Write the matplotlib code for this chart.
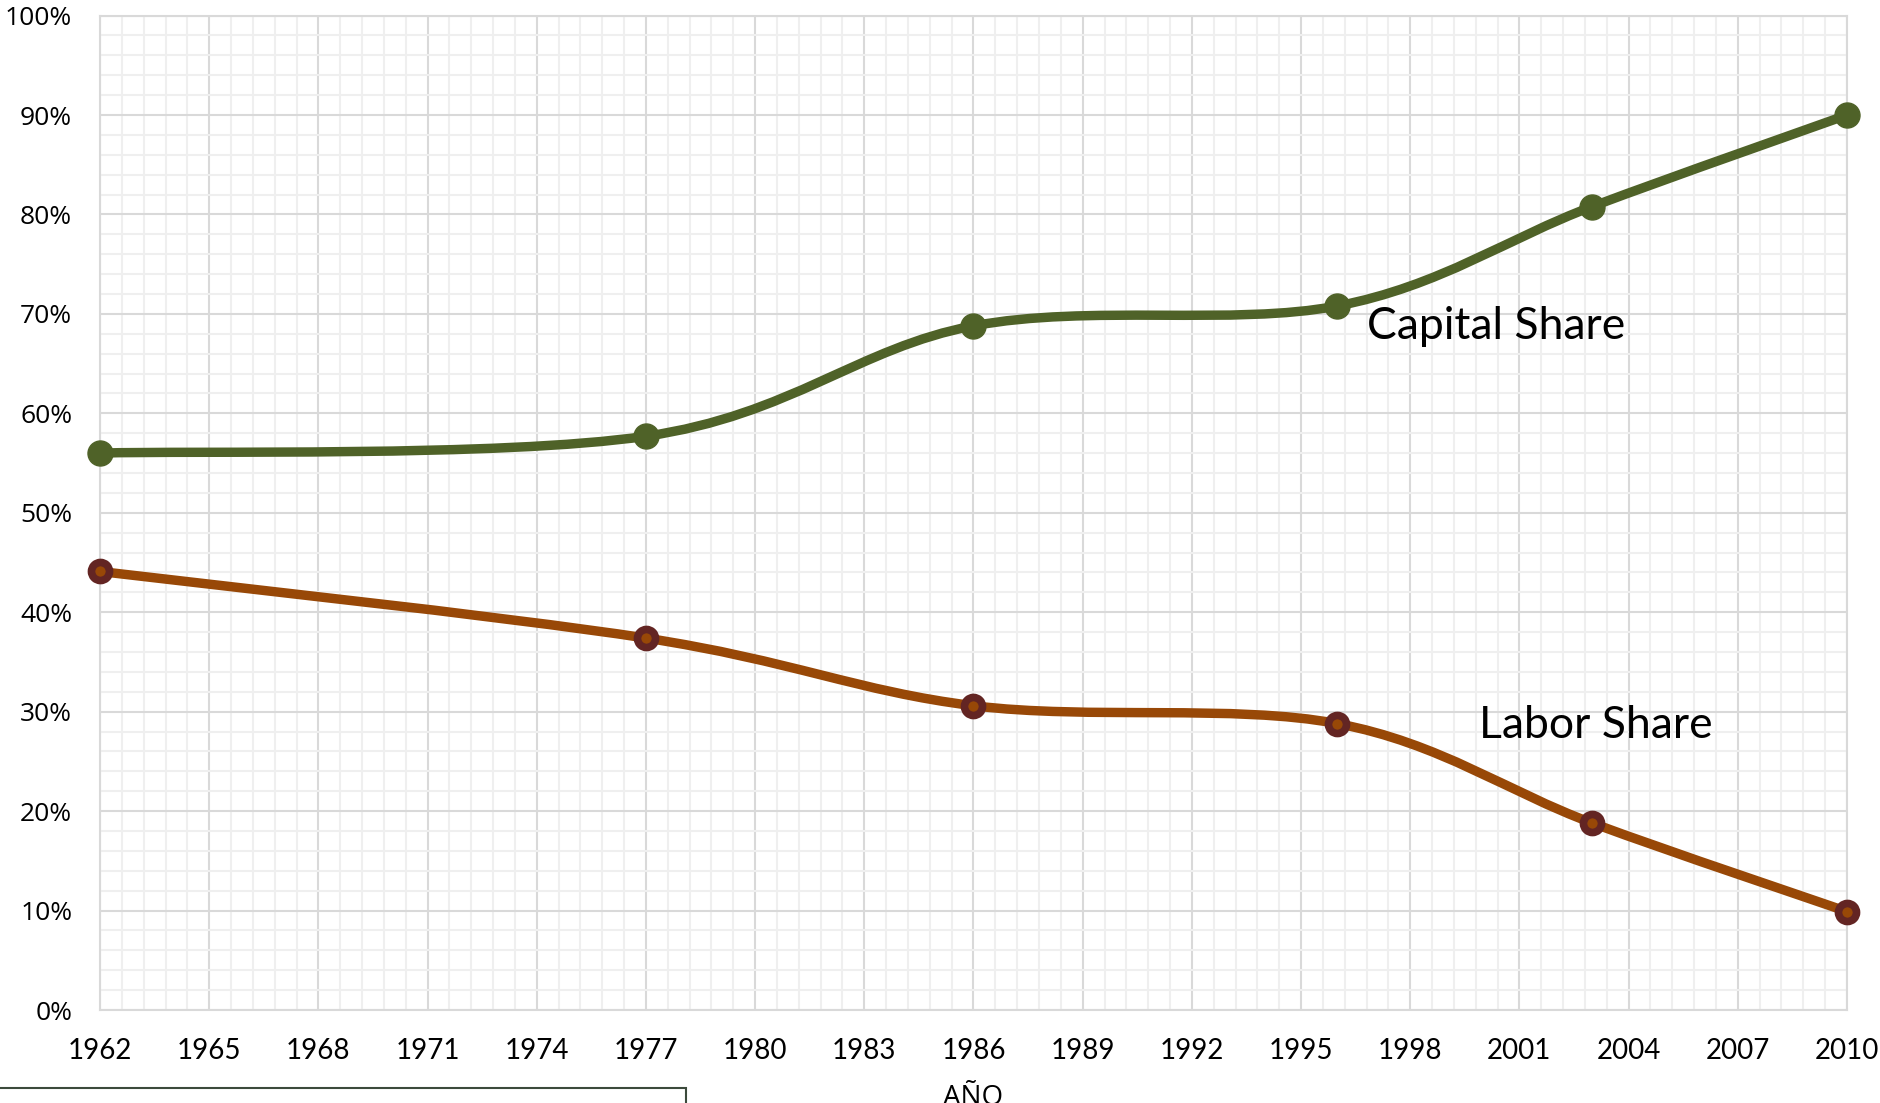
import numpy as np
import matplotlib
matplotlib.use("Agg")
import matplotlib.pyplot as plt
from matplotlib.path import Path
from matplotlib.patches import PathPatch, Rectangle
from matplotlib.ticker import MultipleLocator, PercentFormatter

# data
years = [1962, 1977, 1986, 1996, 2003, 2010]
capital_share = [56.0, 57.7, 68.8, 70.8, 80.8, 90.0]
labor_share = [44.1, 37.4, 30.6, 28.8, 18.8, 9.9]
x_ticks = list(range(1962, 2011, 3))

GREEN = '#4f6228'
ORANGE = '#984807'
DARKRED = '#632523'
GRID_MAJOR = '#d9d9d9'
GRID_MINOR = '#efefef'


def smooth_path(xs, ys):
    """Excel-style smoothed line: cardinal bezier through the points."""
    pts = np.column_stack([xs, ys]).astype(float)
    n = len(pts)
    verts = [pts[0]]
    codes = [Path.MOVETO]
    for i in range(n - 1):
        p_prev = pts[i - 1] if i > 0 else pts[i]
        p_next2 = pts[i + 2] if i + 2 < n else pts[i + 1]
        c1 = pts[i] + (pts[i + 1] - p_prev) / 6.0
        c2 = pts[i + 1] - (p_next2 - pts[i]) / 6.0
        verts += [c1, c2, pts[i + 1]]
        codes += [Path.CURVE4] * 3
    return Path(verts, codes)


fig = plt.figure(figsize=(18.81, 11.03), dpi=100)
ax = fig.add_axes([100 / 1881, 1 - 1010 / 1103, 1747 / 1881, 994.4 / 1103])

ax.set_xlim(1962, 2010)
ax.set_ylim(0, 100)
ax.xaxis.set_minor_locator(MultipleLocator(0.6))
ax.yaxis.set_major_locator(MultipleLocator(10))
ax.yaxis.set_minor_locator(MultipleLocator(2))
ax.yaxis.set_major_formatter(PercentFormatter(decimals=0))
ax.set_xticks(x_ticks)
ax.set_xticklabels([str(y) for y in x_ticks])

ax.grid(which='major', color=GRID_MAJOR, linewidth=1.5, zorder=0)
ax.grid(which='minor', color=GRID_MINOR, linewidth=1.5, zorder=0)
ax.set_axisbelow(True)
for s in ax.spines.values():
    s.set_color(GRID_MAJOR)
    s.set_linewidth(1.5)

ax.tick_params(which='both', length=0)
ax.tick_params(axis='x', pad=20)
ax.tick_params(axis='y', pad=20)
for lbl in ax.get_xticklabels():
    lbl.set_fontfamily('Lato')
    lbl.set_fontsize(20)
for lbl in ax.get_yticklabels():
    lbl.set_fontfamily('Open Sans')
    lbl.set_fontsize(19)

# capital share
ax.add_patch(PathPatch(smooth_path(years, capital_share), fill=False,
                       edgecolor=GREEN, linewidth=6.8, capstyle='round',
                       joinstyle='round', zorder=3, clip_on=False))
ax.plot(years, capital_share, linestyle='none', marker='o', markersize=18,
        markerfacecolor=GREEN, markeredgecolor=GREEN, zorder=4, clip_on=False)

# labor share
ax.add_patch(PathPatch(smooth_path(years, labor_share), fill=False,
                       edgecolor=ORANGE, linewidth=6.8, capstyle='round',
                       joinstyle='round', zorder=3, clip_on=False))
ax.plot(years, labor_share, linestyle='none', marker='o', markersize=13,
        markerfacecolor=ORANGE, markeredgecolor=DARKRED, markeredgewidth=5.5,
        zorder=4, clip_on=False)

ax.text(1996.8, 68.7, 'Capital Share', fontsize=32, family='Lato',
        va='center', ha='left', zorder=5)
ax.text(1999.9, 28.6, 'Labor Share', fontsize=32, family='Lato',
        va='center', ha='left', zorder=5)

fig.text(973 / 1881, 1 - 1084 / 1103, 'AÑO', fontsize=20, family='Open Sans',
         ha='center', va='top')

# cut-off box at the bottom left of the original
fig.patches.append(Rectangle((-0.01, 1 - 1160 / 1103), 705 / 1881, 72 / 1103,
                             transform=fig.transFigure, fill=False,
                             edgecolor='#3c4a3c', linewidth=1.5))

fig.savefig('out.png', dpi=100)
